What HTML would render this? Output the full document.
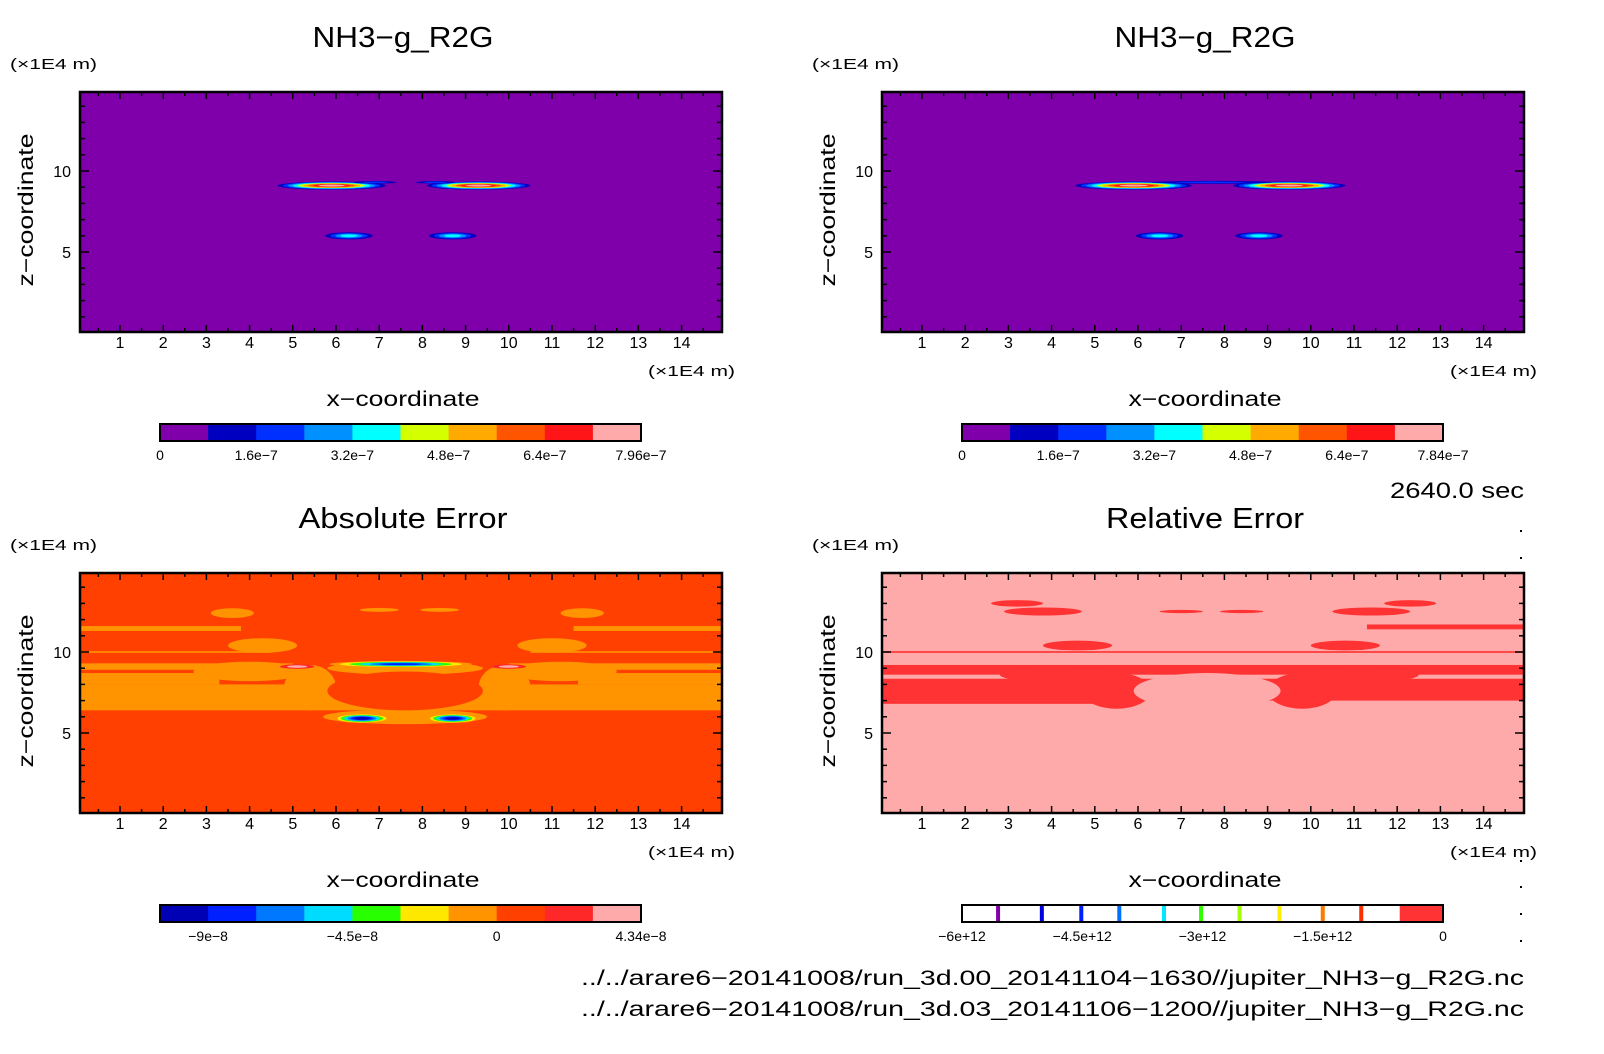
<!DOCTYPE html>
<html><head><meta charset="utf-8"><style>
html,body{margin:0;padding:0;background:#fff;}
svg{display:block;font-family:"Liberation Sans",sans-serif;}
</style></head><body>
<svg id="fig" width="1604" height="1054" viewBox="0 0 1604 1054" xmlns="http://www.w3.org/2000/svg"></svg>
<script>
// ---- data ----
const paletteVal = ["#7f00aa","#0000c0","#0030ff","#0090ff","#00ffff","#d4ff00","#ffaa00","#ff5500","#ff1418","#ffaaaa"];
const paletteErr = ["#0000b4","#0020ff","#0078ff","#00dcff","#28ff00","#ffe800","#ff9400","#ff4000","#ff2828","#ffaaaa"];
const xTicks = [1,2,3,4,5,6,7,8,9,10,11,12,13,14];
const zTicks = [5,10];
// blobs: center x, center z, half-width, half-height, start level, end level
const tlX = [5.9, 9.3, 6.9, 8.3, 6.3, 8.7];
const tlZ = [9.1, 9.1, 9.3, 9.3, 6.0, 6.0];
const tlW = [1.25,1.2, 0.5, 0.45,0.55,0.55];
const tlH = [0.25,0.25,0.08,0.08,0.22,0.22];
const tlS = [1,1,1,1,1,1];
const tlE = [9,9,2,2,4,4];
const trX = [5.9, 9.5, 7.7, 6.5, 8.8];
const trZ = [9.1, 9.1, 9.3, 6.0, 6.0];
const trW = [1.35,1.3, 1.4, 0.55,0.55];
const trH = [0.25,0.25,0.09,0.22,0.22];
const trS = [1,1,1,1,1];
const trE = [9,9,2,4,4];
// absolute error: orange bands (z0,z1,x0,x1)
const abZ0 = [11.3,11.3,9.95,9.95,8.9,8.9,8.0,8.0,6.4];
const abZ1 = [11.6,11.6,10.05,10.05,9.3,9.3,8.7,8.7,8.0];
const abX0 = [0,11.5,0,10.5,0,10.0,0,11.6,0];
const abX1 = [3.8,15.2,4.5,15.2,5.0,15.2,3.3,15.2,15.2];
const abBX = [4.3,11.0,3.6,11.7,7.0,8.4,4.0,11.2,5.4,9.9,7.6,7.6];
const abBZ = [10.4,10.4,12.4,12.4,12.6,12.6,8.8,8.8,7.8,7.8,6.0,9.0];
const abBW = [0.8,0.8,0.5,0.5,0.45,0.45,1.3,1.3,0.6,0.6,1.9,1.8];
const abBH = [0.45,0.45,0.3,0.3,0.12,0.12,0.6,0.6,1.4,1.4,0.45,0.4];
const abHoleX = [7.6], abHoleZ = [7.6], abHoleW = [1.8], abHoleH = [1.2];
const aeX = [7.5, 6.6, 8.7, 5.1, 10.0];
const aeZ = [9.25,5.9, 5.9, 9.1, 9.1];
const aeW = [1.65,0.65,0.6, 0.4, 0.4];
const aeH = [0.2, 0.28,0.28,0.14,0.14];
const aeS = [6,6,6,8,8];
const aeE = [1,0,0,9,9];
// relative error: red bands
const reZ0 = [11.4,9.95,8.6,7.0,6.8];
const reZ1 = [11.7,10.05,9.2,8.35,7.0];
const reX0 = [11.3,0,0,0,0];
const reX1 = [15.2,15.2,15.2,15.2,5.5];
const reBX = [3.8,11.4,4.6,10.8,7.0,8.4,4.2,11.1,5.5,9.8,3.2,12.3];
const reBZ = [12.5,12.5,10.4,10.4,12.5,12.5,8.6,8.6,7.6,7.6,13.0,13.0];
const reBW = [0.9,0.9,0.8,0.8,0.5,0.5,1.4,1.4,0.8,0.8,0.6,0.6];
const reBH = [0.25,0.25,0.3,0.3,0.1,0.1,0.5,0.5,1.1,1.1,0.2,0.2];
const reHoleX=[7.6], reHoleZ=[7.6], reHoleW=[1.7], reHoleH=[1.1];
const cbLabelsTop = ["0","1.6e-7","3.2e-7","4.8e-7","6.4e-7","7.96e-7"];
const cbLabelsTop2 = ["0","1.6e-7","3.2e-7","4.8e-7","6.4e-7","7.84e-7"];
const cbLabelsAbs = ["-9e-8","-4.5e-8","0","4.34e-8"];
const cbPosAbs = [1,4,7,10];
const cbLabelsRel = ["-6e+12","-4.5e+12","-3e+12","-1.5e+12","0"];
const relLineFrac = [0.075,0.166,0.248,0.327,0.42,0.497,0.577,0.66,0.75,0.83];
const relLineCol = ["#8000aa","#0000e0","#0020ff","#0070ff","#00e8ff","#30ff00","#a0ff00","#ffee00","#ff7a00","#ff3000"];

// ---- drawing ----
const NS="http://www.w3.org/2000/svg";
const svg=document.getElementById('fig');
function mk(tag,attrs,parent){const e=document.createElementNS(NS,tag);for(const k in attrs)e.setAttribute(k,attrs[k]);(parent||svg).appendChild(e);return e;}
function txt(s,x,y,size,anchor,parent,len){const t=mk('text',{x:x,y:y,'font-size':size,'text-anchor':anchor||'middle',fill:'#000'},parent);if(len){t.setAttribute('textLength',len);t.setAttribute('lengthAdjust','spacingAndGlyphs');}t.textContent=s;return t;}
const W=642,H=240,CBW=481;
function sx(v){return 40+(v-1)*43.2;}
function sz(v){return 79+(10-v)*16.2;}

function panel(ox,oy,id,title,titleLen,bg){
  const g=mk('g',{transform:`translate(${ox},${oy})`});
  
  
  const cp=mk('clipPath',{id:'cp'+id},g);
  mk('rect',{x:0,y:0,width:W,height:H},cp);
  const plot=mk('g',{'clip-path':`url(#cp${id})`},g);
  
  
  mk('rect',{x:0,y:0,width:W,height:H,fill:bg},plot);
  const t=txt(title,W/2+2,-45,29,'middle',g,titleLen);
  
  
  const u=txt('(×1E4 m)',-70,-23,15,'start',g,87);
  
  
  const zl=txt('z−coordinate',0,0,21,'middle',g,153);
  zl.setAttribute('transform',`translate(-47,${H/2-2}) rotate(-90)`);
  
  
  const xl=txt('x−coordinate',W/2+2,314,21,'middle',g,153);
  
  
  const xu=txt('(×1E4 m)',655,284,15,'end',g,87);
  
  
  return {g,plot};
}
function axes(g){
  const ax=mk('g',{},g);
  
  
  for(let v=0.5;v<=15;v+=0.5){
    const x=sx(v); if(x<=1||x>=W-1)continue;
    const L=(v%1===0)?7:4;
    mk('line',{x1:x,y1:0,x2:x,y2:L,stroke:'#000','stroke-width':1.5},ax);
    mk('line',{x1:x,y1:H,x2:x,y2:H-L,stroke:'#000','stroke-width':1.5},ax);
  }
  for(let v=1;v<=14;v++){
    const y=sz(v); if(y<=1||y>=H-1)continue;
    const L=(zTicks.includes(v))?9:5;
    mk('line',{x1:0,y1:y,x2:L,y2:y,stroke:'#000','stroke-width':1.5},ax);
    mk('line',{x1:W,y1:y,x2:W-L,y2:y,stroke:'#000','stroke-width':1.5},ax);
  }
  xTicks.forEach(v=>{const t=txt(String(v),sx(v),256,16,'middle',ax);
    
    });
  zTicks.forEach(v=>{const t=txt(String(v),-9,sz(v)+6,16,'end',ax);
    
    });
  mk('rect',{x:0,y:0,width:W,height:H,fill:'none',stroke:'#000','stroke-width':2.5},ax);
}
function blobs(plot,X,Z,Wd,Hd,S,E,pal){
  for(let i=0;i<X.length;i++){
    const n=Math.abs(E[i]-S[i])+1, dir=E[i]>=S[i]?1:-1;
    for(let k=0;k<n;k++){
      const f=1-k/n*0.85;
      const e=mk('ellipse',{cx:sx(X[i]),cy:sz(Z[i]),rx:Wd[i]*43.2*f,ry:Math.max(Hd[i]*16.2*f,0.8),fill:pal[S[i]+dir*k]},plot);
      
      
    }
  }
}
function bands(plot,Z0,Z1,X0,X1,col){
  for(let i=0;i<Z0.length;i++){
    const r=mk('rect',{x:sx(X0[i]),y:sz(Z1[i]),width:sx(X1[i])-sx(X0[i]),height:sz(Z0[i])-sz(Z1[i]),fill:col},plot);
    
    
  }
}
function ell(plot,X,Z,Wd,Hd,col){
  for(let i=0;i<X.length;i++){
    const e=mk('ellipse',{cx:sx(X[i]),cy:sz(Z[i]),rx:Wd[i]*43.2,ry:Hd[i]*16.2,fill:col},plot);
    
    
  }
}
function colorbar(ox,oy,cols,labels,pos,name){
  const g=mk('g',{transform:`translate(${ox},${oy})`});
  
  
  const bw=CBW/cols.length;
  cols.forEach((c,i)=>mk('rect',{x:i*bw,y:0,width:bw+0.5,height:17,fill:c},g));
  mk('rect',{x:0,y:0,width:CBW,height:17,fill:'none',stroke:'#000','stroke-width':2},g);
  labels.forEach((l,i)=>{const t=txt(l.replace(/-/g,'−'),pos[i]*bw,36,14,'middle',g);
    
    });
}

// panels
let p=panel(80,92,'top-left','NH3−g_R2G',181,paletteVal[0]);
blobs(p.plot,tlX,tlZ,tlW,tlH,tlS,tlE,paletteVal); axes(p.g);
p=panel(882,92,'top-right','NH3−g_R2G',181,paletteVal[0]);
blobs(p.plot,trX,trZ,trW,trH,trS,trE,paletteVal); axes(p.g);
p=panel(80,573,'abs-error','Absolute Error',209,paletteErr[7]);
bands(p.plot,abZ0,abZ1,abX0,abX1,paletteErr[6]);
ell(p.plot,abBX,abBZ,abBW,abBH,paletteErr[6]);
ell(p.plot,abHoleX,abHoleZ,abHoleW,abHoleH,paletteErr[7]);
blobs(p.plot,aeX,aeZ,aeW,aeH,aeS,aeE,paletteErr); axes(p.g);
p=panel(882,573,'rel-error','Relative Error',198,'#ffaaaa');
bands(p.plot,reZ0,reZ1,reX0,reX1,'#ff3333');
ell(p.plot,reBX,reBZ,reBW,reBH,'#ff3333');
ell(p.plot,reHoleX,reHoleZ,reHoleW,reHoleH,'#ffaaaa'); axes(p.g);

colorbar(160,424,paletteVal,cbLabelsTop,[0,2,4,6,8,10],'colorbar-top-left');
colorbar(962,424,paletteVal,cbLabelsTop2,[0,2,4,6,8,10],'colorbar-top-right');
colorbar(160,905,paletteErr,cbLabelsAbs,cbPosAbs,'colorbar-abs-error');
// relative colorbar
(function(){
  const g=mk('g',{transform:'translate(962,905)'});
  
  
  mk('rect',{x:0,y:0,width:CBW,height:17,fill:'#fff'},g);
  relLineFrac.forEach((f,i)=>mk('rect',{x:f*CBW-2,y:0,width:4,height:17,fill:relLineCol[i]},g));
  mk('rect',{x:0.91*CBW,y:0,width:0.09*CBW,height:17,fill:'#ff3333'},g);
  mk('rect',{x:0,y:0,width:CBW,height:17,fill:'none',stroke:'#000','stroke-width':2},g);
  cbLabelsRel.forEach((l,i)=>{const t=txt(l.replace(/-/g,'−'),i*0.25*CBW,36,14,'middle',g);
    
    });
})();

let t=txt('2640.0 sec',1524,498,22,'end',svg,134);


t=txt('../../arare6−20141008/run_3d.00_20141104−1630//jupiter_NH3−g_R2G.nc',1524,985,21,'end',svg,943);


t=txt('../../arare6−20141008/run_3d.03_20141106−1200//jupiter_NH3−g_R2G.nc',1524,1016,21,'end',svg,943);


[530,557,860,886,913,940].forEach(y=>mk('rect',{x:1520,y:y,width:2,height:2,fill:'#000'}));
</script>
</body></html>
